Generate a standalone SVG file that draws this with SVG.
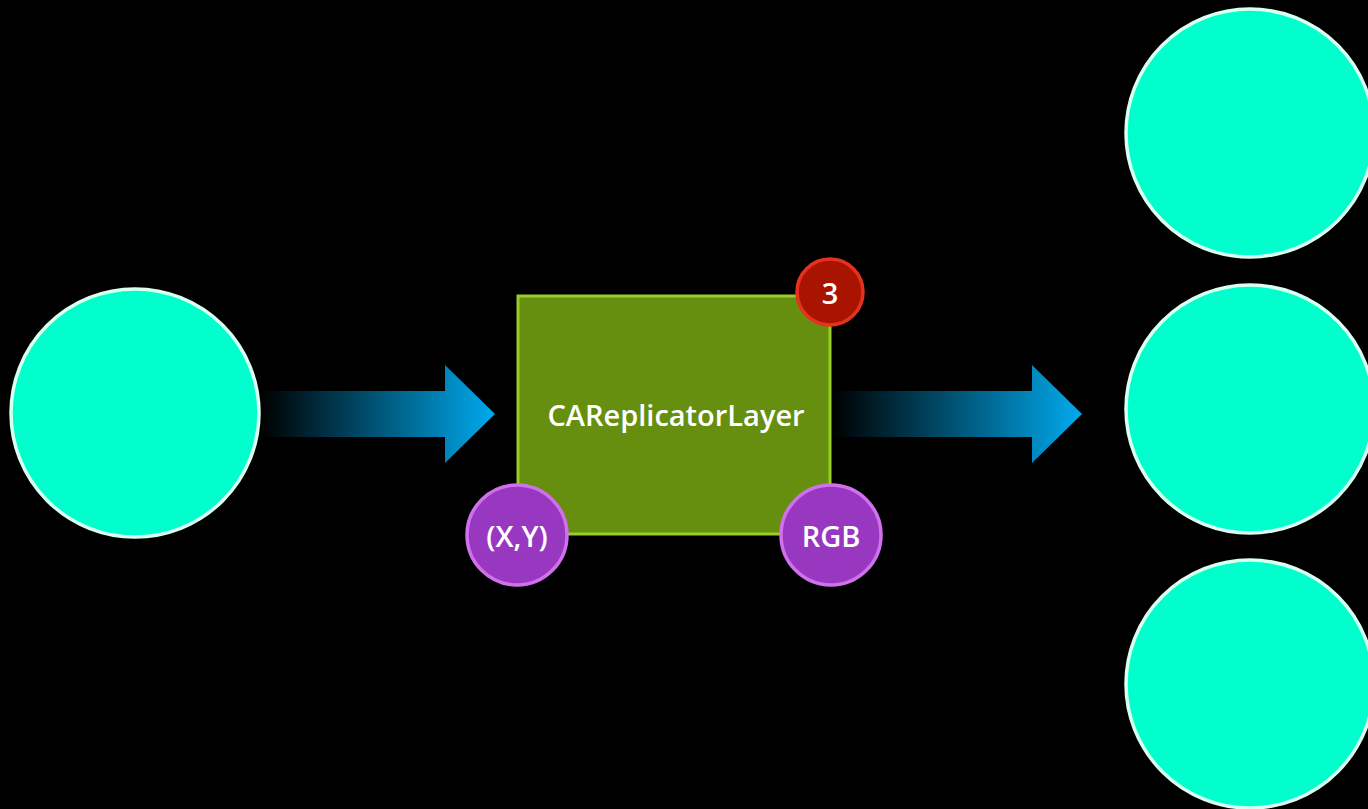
<svg xmlns="http://www.w3.org/2000/svg" width="1368" height="809" viewBox="0 0 1368 809">
  <defs>
    <linearGradient id="flow" x1="0" y1="0" x2="1" y2="0">
      <stop offset="0" stop-color="#00aaee" stop-opacity="0"/>
      <stop offset="1" stop-color="#00aaee"/>
    </linearGradient>
    <style>
      .layer { fill: #00ffcc; stroke: #d8fff0; stroke-width: 3.5; }
      .label { font-family: "Open Sans", "Liberation Sans", sans-serif; fill: #ffffff; text-anchor: middle; dominant-baseline: central; font-weight: 600; }
      .prop { fill: #9838c0; stroke: #d070ec; stroke-width: 3.5; }
    </style>
  </defs>
  <rect width="1368" height="809" fill="#000000"/>

  <!-- source layer -->
  <g id="source">
    <circle class="layer" cx="135" cy="413" r="124"/>
  </g>

  <!-- flow arrows -->
  <g id="connectors">
    <path d="M260 391 H445 V365 L495 414 L445 463 V437 H260 Z" fill="url(#flow)"/>
    <path d="M832 391 H1032 V365 L1082 414 L1032 463 V437 H832 Z" fill="url(#flow)"/>
  </g>

  <!-- replicator -->
  <g id="replicator">
    <rect x="518" y="296" width="312" height="238" fill="#678f0f" stroke="#98cc28" stroke-width="3"/>
    <text class="label" x="676" y="414" font-size="29">CAReplicatorLayer</text>
  </g>

  <g id="instance-count">
    <circle cx="830" cy="292" r="33" fill="#a81400" stroke="#e8301e" stroke-width="3.5"/>
    <text class="label" x="830" y="292" font-size="29">3</text>
  </g>

  <g id="transform">
    <circle class="prop" cx="517" cy="535" r="50"/>
    <text class="label" x="517" y="535" font-size="29">(X,Y)</text>
  </g>

  <g id="color">
    <circle class="prop" cx="831" cy="535" r="50"/>
    <text class="label" x="831" y="535" font-size="29">RGB</text>
  </g>

  <!-- replicated instances -->
  <g id="copy-1">
    <circle class="layer" cx="1250" cy="133" r="124"/>
  </g>
  <g id="copy-2">
    <circle class="layer" cx="1250" cy="409" r="124"/>
  </g>
  <g id="copy-3">
    <circle class="layer" cx="1250" cy="684" r="124"/>
  </g>
</svg>
